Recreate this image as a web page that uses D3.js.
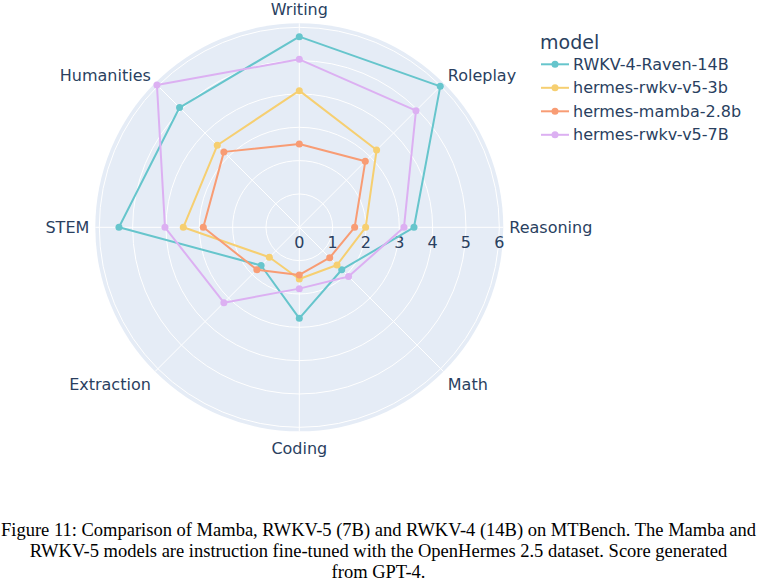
<!DOCTYPE html>
<html>
<head>
<meta charset="utf-8">
<script src="https://cdn.jsdelivr.net/npm/d3@7"></script>
<style>
  body { margin: 0; background: #fff; }
  svg { display: block; }
</style>
</head>
<body>
<svg id="chart" width="757" height="582"></svg>
<script>
const categories = ['Writing', 'Roleplay', 'Reasoning', 'Math', 'Coding', 'Extraction', 'STEM', 'Humanities']
const models = ['RWKV-4-Raven-14B', 'hermes-rwkv-v5-3b', 'hermes-mamba-2.8b', 'hermes-rwkv-v5-7B']
const raven14b = [5.72, 5.98, 3.44, 1.80, 2.73, 1.62, 5.41, 5.08]
const rwkv5_3b = [4.10, 3.28, 1.99, 1.60, 1.55, 1.27, 3.48, 3.48]
const mamba28b = [2.50, 2.80, 1.66, 1.29, 1.43, 1.80, 2.88, 3.20]
const rwkv5_7b = [5.04, 4.95, 3.14, 2.09, 1.84, 3.20, 4.03, 6.04]
const radialTicks = [0, 1, 2, 3, 4, 5, 6]
const captionLines = [
  'Figure 11: Comparison of Mamba, RWKV-5 (7B) and RWKV-4 (14B) on MTBench. The Mamba and',
  'RWKV-5 models are instruction fine-tuned with the OpenHermes 2.5 dataset. Score generated',
  'from GPT-4.'
]

const series = [raven14b, rwkv5_3b, mamba28b, rwkv5_7b]
const COLORS = ['#66C5CC', '#F6CF71', '#F89C74', '#DCB0F2']
const FONT = '"DejaVu Sans", "Open Sans", sans-serif'
const TEXT = '#2a3f5f'

const cx = 299.3, cy = 227.3, R = 204

const svg = d3.select('#chart')

const r = d3.scaleLinear().domain([0, 6.12]).range([0, R])
// clockwise from the top
const angle = d3.scalePoint().domain(categories).range([0, 2 * Math.PI * 7 / 8])

const g = svg.append('g').attr('transform', `translate(${cx},${cy})`)

g.append('circle').attr('r', R).attr('fill', '#E5ECF6')

g.selectAll('circle.grid')
  .data(radialTicks.filter(d => d > 0))
  .join('circle')
  .attr('class', 'grid')
  .attr('r', d => r(d))
  .attr('fill', 'none')
  .attr('stroke', '#fff')
  .attr('stroke-width', 1)

g.selectAll('line.spoke')
  .data(categories)
  .join('line')
  .attr('class', 'spoke')
  .attr('x1', 0).attr('y1', 0)
  .attr('x2', d => R * Math.sin(angle(d)))
  .attr('y2', d => -R * Math.cos(angle(d)))
  .attr('stroke', '#fff')
  .attr('stroke-width', 1)

// radial tick labels along the Reasoning spoke
g.selectAll('text.rtick')
  .data(radialTicks)
  .join('text')
  .attr('class', 'rtick')
  .attr('x', d => r(d))
  .attr('y', 15)
  .attr('dy', '0.35em')
  .attr('text-anchor', 'middle')
  .attr('font-family', FONT)
  .attr('font-size', 16)
  .attr('fill', TEXT)
  .text(d => d)

// category labels
g.selectAll('text.cat')
  .data(categories)
  .join('text')
  .attr('class', 'cat')
  .each(function (d) {
    const a = angle(d)
    const s = Math.sin(a), c = Math.cos(a)
    const el = d3.select(this)
    const pad = 6
    let dy
    if (Math.abs(s) < 0.1) dy = c > 0 ? -2 : 17
    else if (Math.abs(s) > 0.9) dy = 6
    else dy = c > 0 ? 2 : 14
    el.attr('x', (R + pad) * s)
      .attr('y', -(R + pad) * c + dy)
      .attr('text-anchor', Math.abs(s) < 0.1 ? 'middle' : (s > 0 ? 'start' : 'end'))
  })
  .attr('font-family', FONT)
  .attr('font-size', 16)
  .attr('fill', TEXT)
  .text(d => d)

const radialLine = d3.lineRadial()
  .angle((d, i) => angle(categories[i]))
  .radius(d => r(d))
  .curve(d3.curveLinearClosed)

series.forEach((vals, k) => {
  g.append('path')
    .attr('d', radialLine(vals))
    .attr('fill', 'none')
    .attr('stroke', COLORS[k])
    .attr('stroke-width', 2)
    .attr('stroke-linejoin', 'round')

  g.selectAll(null)
    .data(vals)
    .join('circle')
    .attr('cx', (d, i) => r(d) * Math.sin(angle(categories[i])))
    .attr('cy', (d, i) => -r(d) * Math.cos(angle(categories[i])))
    .attr('r', 3.5)
    .attr('fill', COLORS[k])
})

// legend
const legend = svg.append('g').attr('transform', 'translate(540,0)')
legend.append('text')
  .attr('x', 0).attr('y', 42)
  .attr('dy', '0.35em')
  .attr('font-family', FONT)
  .attr('font-size', 19)
  .attr('fill', TEXT)
  .text('model')

const items = legend.selectAll('g.item')
  .data(models)
  .join('g')
  .attr('class', 'item')
  .attr('transform', (d, i) => `translate(0,${64.3 + i * 23.5})`)

items.append('line')
  .attr('x1', 1).attr('x2', 29)
  .attr('stroke', (d, i) => COLORS[i])
  .attr('stroke-width', 2)
items.append('circle')
  .attr('cx', 15).attr('r', 3.5)
  .attr('fill', (d, i) => COLORS[i])
items.append('text')
  .attr('x', 33)
  .attr('dy', '0.35em')
  .attr('font-family', FONT)
  .attr('font-size', 16)
  .attr('fill', TEXT)
  .text(d => d)

// caption
svg.selectAll('text.caption')
  .data(captionLines)
  .join('text')
  .attr('class', 'caption')
  .attr('x', 378.5)
  .attr('y', (d, i) => 530 + i * 21)
  .attr('dy', '0.35em')
  .attr('text-anchor', 'middle')
  .attr('font-family', '"Liberation Serif", serif')
  .attr('font-size', 18.5)
  .attr('fill', '#000')
  .text(d => d)
</script>
</body>
</html>
